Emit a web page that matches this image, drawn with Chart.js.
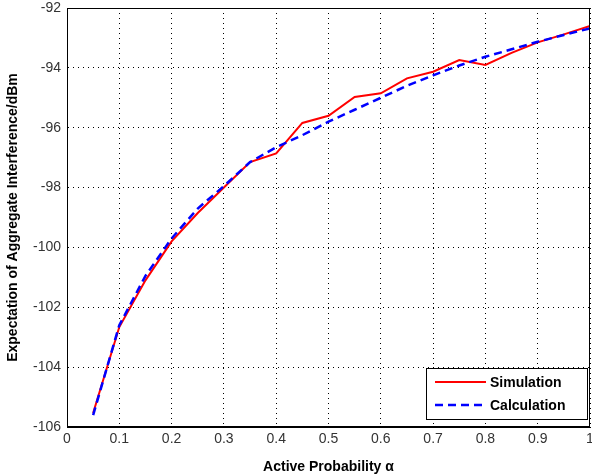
<!DOCTYPE html>
<html>
<head>
<meta charset="utf-8">
<script src="https://cdn.jsdelivr.net/npm/chart.js@4/dist/chart.umd.min.js"></script>
<style>
  html, body { margin: 0; padding: 0; background: #fff; }
  #wrap { width: 592px; height: 476px; }
</style>
</head>
<body>
<div id="wrap"><canvas id="chart"></canvas></div>
<script>
// active probability alpha
const alphas = [0.05, 0.1, 0.15, 0.2, 0.25, 0.3, 0.35, 0.4, 0.45, 0.5,
                0.55, 0.6, 0.65, 0.7, 0.75, 0.8, 0.85, 0.9, 0.95, 1.0];
const simulation = [-105.53, -102.66, -101.1, -99.8, -98.85, -98.0, -97.15, -96.86, -95.84, -95.6,
                    -94.97, -94.85, -94.35, -94.13, -93.74, -93.9, -93.5, -93.15, -92.88, -92.6];
const calculation = [-105.6, -102.6, -100.95, -99.7, -98.7, -97.95, -97.15, -96.65, -96.25, -95.8,
                     -95.4, -95.0, -94.6, -94.25, -93.92, -93.63, -93.38, -93.13, -92.9, -92.68];
const seriesNames = ["Simulation", "Calculation"];
const xTicks = [0, 0.1, 0.2, 0.3, 0.4, 0.5, 0.6, 0.7, 0.8, 0.9, 1];
const yTicks = [-106, -104, -102, -100, -98, -96, -94, -92];

const toPoints = (ys) => ys.map((y, i) => ({ x: alphas[i], y: y }));

// box around the plot + legend drawn inside, bottom right
const frame = {
  id: "frame",
  afterDraw(chart) {
    const { ctx, chartArea: a } = chart;
    ctx.save();
    ctx.strokeStyle = "#000";
    ctx.lineWidth = 1;
    ctx.strokeRect(a.left + 0.5, a.top + 0.5, a.right - a.left - 1, a.bottom - a.top - 1);

    // legend
    const w = 161, h = 51;
    const lx = a.right - w - 3, ly = a.bottom - h - 8;
    ctx.fillStyle = "#fff";
    ctx.fillRect(lx, ly, w, h);
    ctx.strokeRect(lx + 0.5, ly + 0.5, w, h);
    ctx.font = "bold 14px 'Liberation Sans', Arial, sans-serif";
    ctx.textBaseline = "middle";
    chart.data.datasets.forEach((ds, i) => {
      const y = ly + 14 + i * 23;
      ctx.strokeStyle = ds.borderColor;
      ctx.lineWidth = ds.borderWidth;
      ctx.setLineDash(ds.borderDash || []);
      ctx.beginPath();
      ctx.moveTo(lx + 9, y);
      ctx.lineTo(lx + 60, y);
      ctx.stroke();
      ctx.setLineDash([]);
      ctx.fillStyle = "#000";
      ctx.fillText(ds.label, lx + 64, y + 1);
    });
    ctx.restore();
  }
};

new Chart(document.getElementById("chart"), {
  type: "line",
  data: {
    datasets: [
      {
        label: seriesNames[0],
        data: toPoints(simulation),
        borderColor: "#ff0000",
        borderWidth: 2,
        pointRadius: 0,
        tension: 0,
        order: 1
      },
      {
        label: seriesNames[1],
        data: toPoints(calculation),
        borderColor: "#0000ff",
        borderWidth: 2.5,
        borderDash: [8, 5],
        pointRadius: 0,
        tension: 0,
        order: 0
      }
    ]
  },
  options: {
    responsive: true,
    maintainAspectRatio: false,
    animation: false,
    layout: { padding: { top: 8, right: 2, left: 0, bottom: 0 } },
    plugins: {
      legend: { display: false },
      tooltip: { enabled: false }
    },
    scales: {
      x: {
        type: "linear",
        min: 0,
        max: 1,
        afterBuildTicks: (scale) => { scale.ticks = xTicks.map(v => ({ value: v })); },
        afterFit: (scale) => {
          scale.height = 49;
          scale.paddingLeft = 0;
          scale.paddingRight = 0;
        },
        ticks: {
          color: "#333",
          font: { family: "'Liberation Sans', Arial, sans-serif", size: 14 },
          padding: 4,
          maxRotation: 0,
          callback: (v) => String(v)
        },
        grid: { color: "#000", lineWidth: 1, tickLength: 0 },
        border: { display: true, color: "#000", dash: [1, 4] },
        title: {
          display: true,
          text: "Active Probability α",
          color: "#000",
          font: { family: "'Liberation Sans', Arial, sans-serif", size: 14, weight: "bold" },
          padding: { top: 2, bottom: 0 }
        }
      },
      y: {
        type: "linear",
        min: -106,
        max: -92,
        afterBuildTicks: (scale) => { scale.ticks = yTicks.map(v => ({ value: v })); },
        afterFit: (scale) => {
          scale.width = 67;
          scale.paddingTop = 0;
          scale.paddingBottom = 0;
        },
        ticks: {
          color: "#333",
          font: { family: "'Liberation Sans', Arial, sans-serif", size: 14 },
          padding: 6
        },
        grid: { color: "#000", lineWidth: 1, tickLength: 0 },
        border: { display: true, color: "#000", dash: [1, 4] },
        title: {
          display: true,
          text: "Expectation of Aggregate Interference/dBm",
          color: "#000",
          font: { family: "'Liberation Sans', Arial, sans-serif", size: 14, weight: "bold" },
          padding: { top: 5, bottom: 0 }
        }
      }
    }
  },
  plugins: [frame]
});
</script>
</body>
</html>
